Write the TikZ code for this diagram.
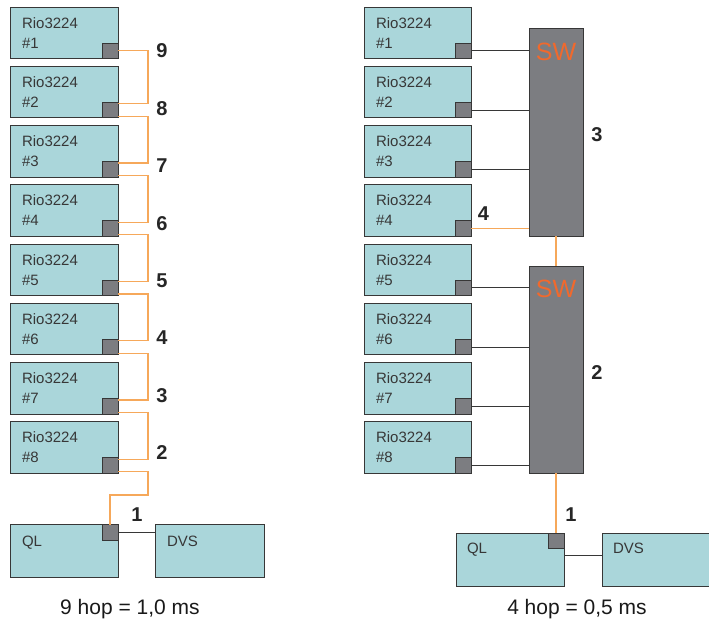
\documentclass[tikz,border=0pt]{standalone}
\usepackage{fontspec}
\setmainfont{Liberation Sans}
\usetikzlibrary{positioning}
\definecolor{boxteal}{RGB}{170,214,218}
\definecolor{portgray}{RGB}{124,125,129}
\definecolor{edgegray}{RGB}{55,55,55}
\definecolor{fibre}{RGB}{246,168,90}
\definecolor{swred}{RGB}{240,105,45}

\begin{document}
\begin{tikzpicture}[x=1pt, y=-1pt,
    every node/.style={inner sep=0pt, outer sep=0pt},
    unit/.style={draw=edgegray, fill=boxteal, line width=0.9pt, minimum width=108pt, minimum height=51.5pt, anchor=north west},
    port/.style={draw=edgegray, fill=portgray, line width=0.9pt, minimum width=16pt, minimum height=15.5pt, anchor=south east},
    switchbox/.style={draw=edgegray, fill=portgray, line width=0.9pt, minimum width=54pt, anchor=north west},
    unittext/.style={font=\fontsize{15}{18}\selectfont, text=edgegray, anchor=base west},
    swtext/.style={font=\fontsize{25}{25}\selectfont, text=swred},
    hoplabel/.style={font=\fontsize{20}{20}\selectfont\bfseries, text=black!85},
    hopcaption/.style={font=\fontsize{21}{21}\selectfont, text=black!90, anchor=base},
    fibreline/.style={draw=fibre, line width=1.1pt},
    catline/.style={draw=edgegray, line width=0.9pt}
]
\useasboundingbox (0,0) rectangle (709,622);

% Rio units, daisy chain (left) and star (right)
\foreach \i in {1,...,8} {
    \node[unit] (rl\i) at (10,{7+59.25*(\i-1)}) {};
    \node[port] (rlp\i) at (rl\i.south east) {};
    \node[unittext] (rlt\i) at ([shift={(12,21)}]rl\i.north west) {Rio3224};
    \node[unittext] (rln\i) at ([shift={(12,41)}]rl\i.north west) {\#\i};
    \node[unit, minimum width=107pt] (rr\i) at (364,{7+59.25*(\i-1)}) {};
    \node[port] (rrp\i) at (rr\i.south east) {};
    \node[unittext] (rrt\i) at ([shift={(12,21)}]rr\i.north west) {Rio3224};
    \node[unittext] (rrn\i) at ([shift={(12,41)}]rr\i.north west) {\#\i};
}

% left: console and DVS
\node[unit, minimum height=52.5pt] (qll) at (10,524.5) {};
\node[port, anchor=north east] (qlp) at (qll.north east) {};
\node[unittext] (qllt) at ([shift={(12,22)}]qll.north west) {QL};
\node[unit, minimum width=109pt, minimum height=52.5pt] (dvsl) at (155,524.5) {};
\node[unittext] (dvslt) at ([shift={(12,22)}]dvsl.north west) {DVS};

% left: chain
\draw[fibreline] (rlp1.east) -- ++(30,0) |- ([yshift=-1.5pt]rlp2.north east);
\foreach \i [evaluate=\i as \j using int(\i+1)] in {2,...,7}
    \draw[fibreline] ([yshift=1.5pt]rlp\i.south east) -- ++(30,0) |- ([yshift=-1.5pt]rlp\j.north east);
\coordinate (bend) at (110,495);
\draw[fibreline] ([yshift=1.5pt]rlp8.south east) -- ++(30,0) |- (bend) -- (qlp.north);
\draw[catline] (qlp.east) -- (qlp.east -| dvsl.west);

\foreach \k in {9,...,2}
    \node[hoplabel] (hl\k) at (162,{51+57.4*(9-\k)}) {\k};
\node[hoplabel] (hl1) at (137,515) {1};

% right: switches
\node[switchbox, minimum height=208pt] (sw1) at (529,28) {};
\node[switchbox, minimum height=207pt] (sw2) at (529,266) {};
\node[swtext, below=15pt of sw1.north] (swt1) {SW};
\node[swtext, below=14pt of sw2.north] (swt2) {SW};

\node[unit, minimum height=53pt] (qlr) at (456,533) {};
\node[port, anchor=north east] (qrp) at (qlr.north east) {};
\node[unittext] (qlrt) at ([shift={(11,20)}]qlr.north west) {QL};
\node[unit, minimum width=112pt, minimum height=53pt] (dvsr) at (602,533) {};
\node[unittext] (dvsrt) at ([shift={(11,20)}]dvsr.north west) {DVS};

\foreach \i in {1,2,3}
    \draw[catline] (rrp\i.east) -- (rrp\i.east -| sw1.west);
\foreach \i in {5,...,8}
    \draw[catline] (rrp\i.east) -- (rrp\i.east -| sw2.west);
\draw[fibreline] (rrp4.east) -- (rrp4.east -| sw1.west);
\draw[fibreline] (sw1.south) -- (sw2.north);
\draw[fibreline] (sw2.south) -- (sw2.south |- qrp.north);
\coordinate (qlrout) at ([yshift=3.8pt]qlr.east);
\draw[catline] (qlrout) -- (qlrout -| dvsr.west);

\node[hoplabel] (hr4) at (483.5,214) {4};
\node[hoplabel] (hr3) at (597,135) {3};
\node[hoplabel] (hr2) at (597,373) {2};
\node[hoplabel] (hr1) at (571,515) {1};

% totals
\node[hopcaption] (capl) at (130,614) {9 hop = 1,0 ms};
\node[hopcaption] (capr) at (577,614) {4 hop = 0,5 ms};
\end{tikzpicture}
\end{document}
